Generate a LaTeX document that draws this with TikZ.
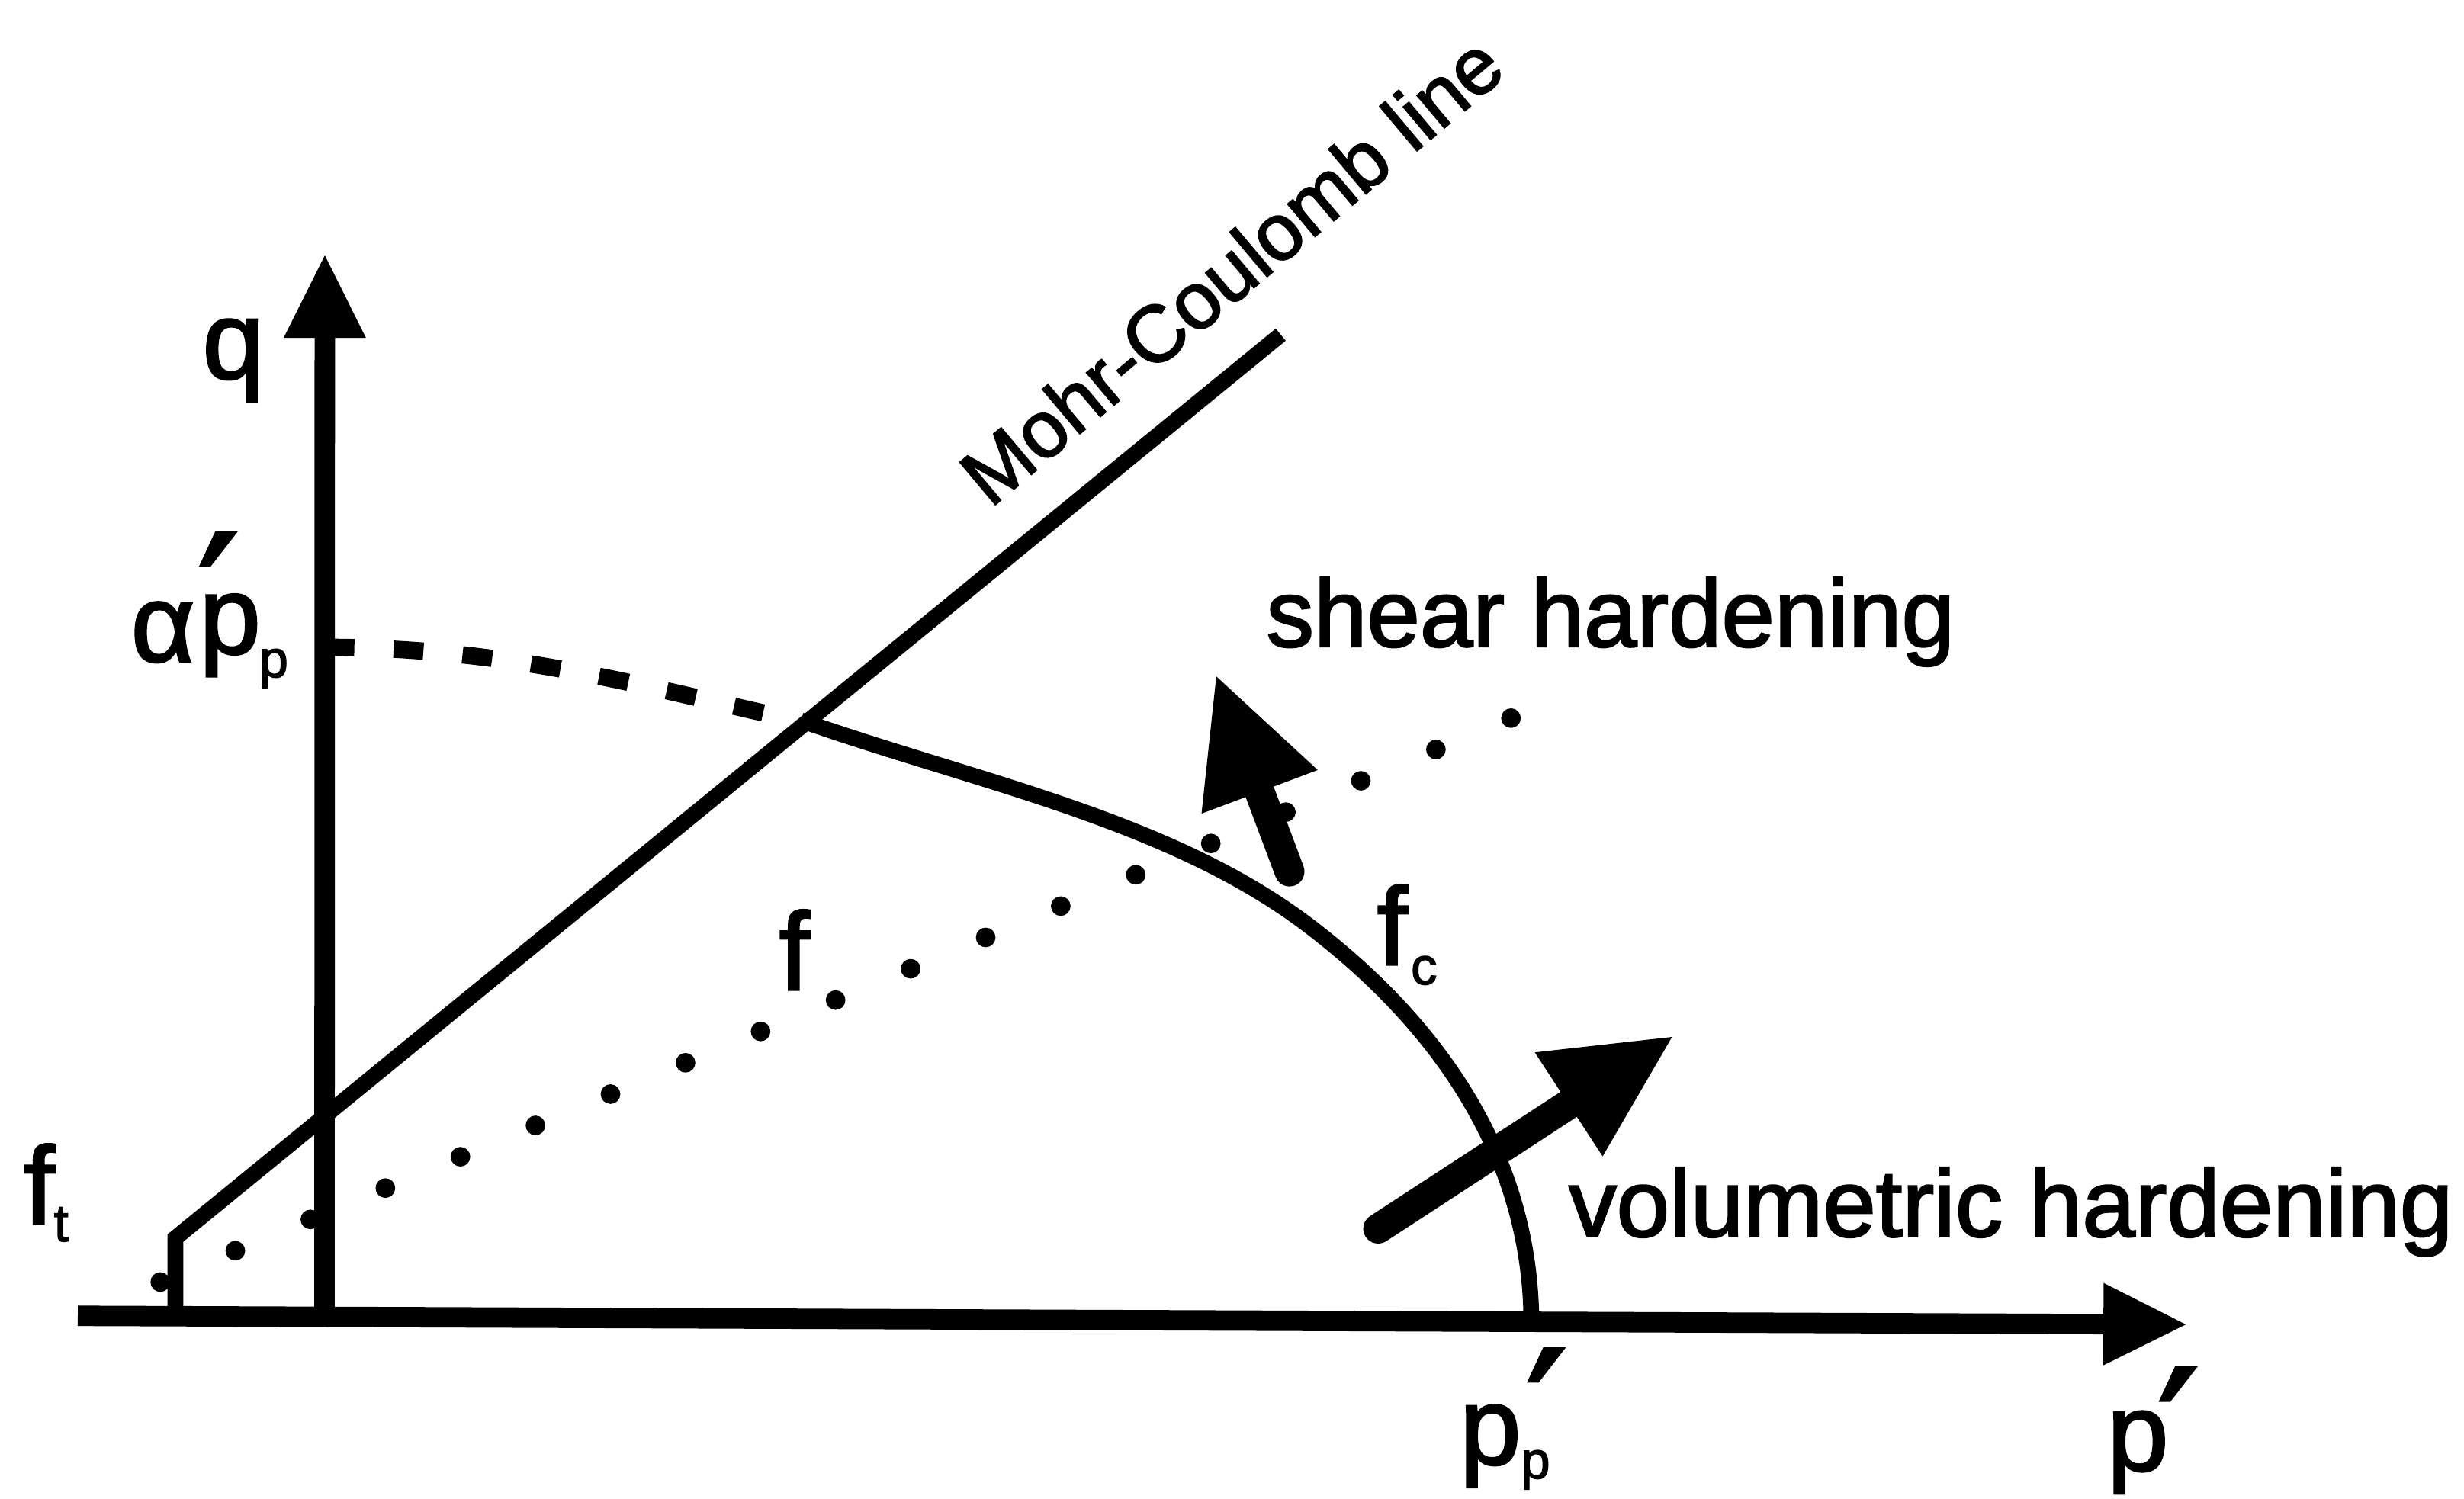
\documentclass[tikz,border=0pt]{standalone}
\usepackage{fontspec}
\setmainfont{Liberation Sans}[FakeBold=2]
\newfontfamily\primefont{DejaVu Sans}[FakeBold=2.5]
\usetikzlibrary{arrows.meta}
\tikzset{
  axisline/.style={line width=0.26cm, -{Triangle[length=1.05cm,width=1.05cm,line width=0pt]}},
  curveline/.style={line width=0.2cm},
  capdash/.style={line width=0.22cm, dash pattern=on 0.38cm off 0.5cm},
  hardarrow/.style={line width=0.38cm, line cap=round, -{Triangle[length=1.57cm,width=1.58cm,line width=0pt]}},
  lbl/.style={inner sep=0pt, anchor=base west, font=\fontsize{40}{40}\selectfont},
  sublbl/.style={inner sep=0pt, anchor=base west, font=\fontsize{19}{19}\selectfont},
  txt/.style={inner sep=0pt, anchor=base west, font=\fontsize{34.5}{36}\selectfont},
  primelbl/.style={inner sep=0pt, anchor=north, font=\primefont\fontsize{62}{62}\selectfont},
  mclbl/.style={inner sep=0pt, anchor=base west, rotate=40, font=\fontsize{29}{30}\selectfont},
}
\begin{document}
\begin{tikzpicture}[x=0.02cm, y=-0.02cm]
\fill[white] (0,0) rectangle (1568,954);
\useasboundingbox (0,0) rectangle (1568,954);

% dotted yield locus f
\foreach \i in {0,...,18}
  \fill ({102+47.75*\i},{816-19.94*\i}) circle[radius=0.125cm];

% axes
\coordinate (O) at (206.5,844);
\coordinate (qtip) at (206.7,162.6);
\coordinate (pstart) at (49.5,837.5);
\coordinate (ptip) at (1391,843);
\draw[axisline] (O) -- (qtip);
\draw[axisline] (pstart) -- (ptip);

% Mohr-Coulomb line with tension cut-off
\coordinate (mcfoot) at (111.6,839);
\coordinate (mccorner) at (111.6,788);
\coordinate (mctop) at (815,213);
\draw[curveline, line join=miter] (mcfoot) -- (mccorner) -- (mctop);

% cap
\coordinate (captop) at (206.5,412);
\coordinate (capmc) at (514,460);
\coordinate (capmid) at (832.6,589);
\coordinate (capend) at (974.5,843);
\draw[capdash] (captop) .. controls (330,412) and (420,440) .. (capmc);
\draw[curveline] (capmc) .. controls (623,498) and (745,522.5) .. (capmid)
                          .. controls (912.2,649.5) and (974.5,733) .. (capend);

% hardening arrows
\coordinate (shs) at (820.6,554.7);
\coordinate (sht) at (774,430.5);
\draw[hardarrow] (shs) -- (sht);
\coordinate (vs) at (877,782);
\coordinate (vt) at (1064,660);
\draw[hardarrow] (vs) -- (vt);

% labels
\node[lbl] (q) at (128.5,241) {q};
\node[lbl] (alpha) at (83,421) {α};
\node[lbl] (pa) at (126.5,416) {p};
\node[sublbl] (pasub) at (164.5,431) {p};
\node[primelbl] (paprime) at (139,339) {′};
\node[lbl] (pp) at (928.5,932) {p};
\node[sublbl] (ppsub) at (967.5,941) {p};
\node[primelbl] (ppprime) at (984,858.5) {′};
\node[lbl] (paxis) at (1340.5,936) {p};
\node[primelbl] (paxisprime) at (1386,870.7) {′};
\node[lbl] (ft) at (15,779) {f};
\node[sublbl] (ftsub) at (34,790) {t};
\node[lbl] (f) at (495.5,630) {f};
\node[lbl] (fc) at (876,614) {f};
\node[sublbl] (fcsub) at (897.5,626.5) {c};
\node[txt] (shear) at (805.5,411.5) {shear hardening};
\node[txt] (vol) at (998,787) {volumetric hardening};
\node[mclbl] (mc) at (630,324) {Mohr-Coulomb line};
\end{tikzpicture}
\end{document}
